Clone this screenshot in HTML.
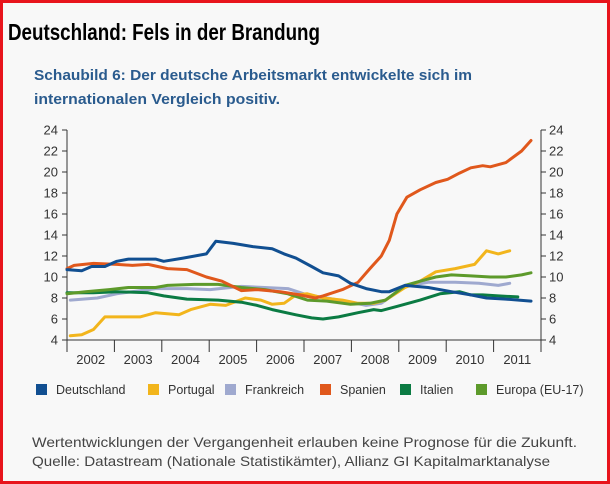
<!DOCTYPE html>
<html><head><meta charset="utf-8"><style>
html,body{margin:0;padding:0;background:#f8f8f8}
svg{display:block;font-family:"Liberation Sans",sans-serif}
</style></head><body>
<svg id="c" width="610" height="484" viewBox="0 0 610 484">
<rect x="1.5" y="1.5" width="607" height="481" fill="#f8f8f8" stroke="#e8141c" stroke-width="3"/>
<text x="8" y="40" font-size="23" font-weight="bold" fill="#000" textLength="312" lengthAdjust="spacingAndGlyphs">Deutschland: Fels in der Brandung</text>
<text x="34" y="80" font-size="15" font-weight="bold" fill="#2a5b8e" textLength="438" lengthAdjust="spacingAndGlyphs">Schaubild 6: Der deutsche Arbeitsmarkt entwickelte sich im</text>
<text x="34" y="104" font-size="15" font-weight="bold" fill="#2a5b8e" textLength="246" lengthAdjust="spacingAndGlyphs">internationalen Vergleich positiv.</text>
<g id="axes"></g>
<g id="series"></g>
<g id="legend"></g>
<text x="32" y="447" font-size="14" fill="#444" textLength="545" lengthAdjust="spacingAndGlyphs">Wertentwicklungen der Vergangenheit erlauben keine Prognose für die Zukunft.</text>
<text x="32" y="466" font-size="14" fill="#444" textLength="518" lengthAdjust="spacingAndGlyphs">Quelle: Datastream (Nationale Statistikämter), Allianz GI Kapitalmarktanalyse</text>
</svg>
<script>
const yTicks=[4,6,8,10,12,14,16,18,20,22,24];
const years=[2002,2003,2004,2005,2006,2007,2008,2009,2010,2011];
const seriesNames=["Deutschland","Portugal","Frankreich","Spanien","Italien","Europa (EU-17)"];
const seriesColors=["#114f91","#f2b51c","#9fa9cf","#e0581c","#0b7b43","#5d9a2b"];
const deT=[2002.0,2002.31,2002.52,2002.8,2003.05,2003.3,2003.87,2004.04,2004.45,2004.94,2005.14,2005.51,2005.92,2006.33,2006.58,2006.83,2007.16,2007.4,2007.73,2007.98,2008.31,2008.63,2008.8,2009.13,2009.62,2010.11,2010.52,2010.85,2011.26,2011.79];
const deV=[10.7,10.6,11.0,11.0,11.5,11.7,11.7,11.5,11.8,12.2,13.4,13.2,12.9,12.7,12.2,11.8,11.0,10.4,10.1,9.4,8.9,8.6,8.6,9.2,9.0,8.6,8.3,8.0,7.9,7.7];
const ptT=[2002.07,2002.31,2002.56,2002.8,2003.22,2003.54,2003.87,2004.36,2004.61,2005.02,2005.35,2005.76,2006.09,2006.33,2006.58,2006.83,2007.07,2007.4,2007.81,2008.14,2008.47,2008.72,2009.13,2009.45,2009.78,2010.19,2010.6,2010.85,2011.1,2011.34];
const ptV=[4.4,4.5,5.0,6.2,6.2,6.2,6.6,6.4,6.9,7.4,7.3,8.0,7.8,7.4,7.5,8.3,8.4,8.0,7.8,7.5,7.5,7.8,9.0,9.6,10.5,10.8,11.2,12.5,12.2,12.5];
const frT=[2002.07,2002.64,2003.05,2003.87,2004.53,2005.02,2005.68,2006.17,2006.66,2007.07,2007.48,2007.98,2008.31,2008.63,2009.13,2009.62,2010.19,2010.69,2011.1,2011.34];
const frV=[7.8,8.0,8.4,8.9,8.9,8.8,9.1,9.0,8.9,8.3,8.0,7.6,7.3,7.5,9.1,9.5,9.5,9.4,9.2,9.4];
const esT=[2002.0,2002.15,2002.56,2003.05,2003.38,2003.71,2004.12,2004.53,2004.94,2005.27,2005.68,2006.01,2006.5,2006.91,2007.24,2007.4,2007.81,2008.14,2008.39,2008.63,2008.8,2008.96,2009.17,2009.45,2009.78,2010.03,2010.28,2010.52,2010.77,2010.93,2011.26,2011.59,2011.79];
const esV=[10.8,11.1,11.3,11.2,11.1,11.2,10.8,10.7,10.0,9.6,8.7,8.8,8.6,8.3,8.0,8.2,8.8,9.5,10.8,12.0,13.5,16.0,17.6,18.3,19.0,19.3,19.9,20.4,20.6,20.5,20.9,22.0,23.0];
const itT=[2002.0,2002.56,2003.05,2003.71,2004.04,2004.53,2005.19,2005.68,2006.01,2006.33,2006.83,2007.16,2007.4,2007.73,2008.14,2008.47,2008.63,2008.96,2009.45,2009.87,2010.28,2010.52,2010.77,2011.1,2011.51];
const itV=[8.5,8.5,8.6,8.5,8.2,7.9,7.8,7.6,7.3,6.9,6.4,6.1,6.0,6.2,6.6,6.9,6.8,7.2,7.8,8.4,8.6,8.3,8.3,8.2,8.1];
const euT=[2002.0,2002.39,2002.89,2003.3,2003.87,2004.12,2004.69,2005.19,2005.68,2006.17,2006.66,2007.07,2007.48,2007.98,2008.39,2008.72,2008.96,2009.13,2009.45,2009.78,2010.11,2010.52,2010.93,2011.26,2011.59,2011.79];
const euV=[8.4,8.6,8.8,9.0,9.0,9.2,9.3,9.3,9.0,8.8,8.4,7.8,7.7,7.4,7.5,7.8,8.6,9.2,9.6,10.0,10.2,10.1,10.0,10.0,10.2,10.4];
const seriesT=[deT,ptT,frT,esT,itT,euT];
const seriesV=[deV,ptV,frV,esV,itV,euV];
const NS="http://www.w3.org/2000/svg";
const X0=67,X1=541,Y0=340,Y1=130;
function xs(t){return X0+(t-2002)/(2012-2002)*(X1-X0);}
function ys(v){return Y0-(v-4)/(24-4)*(Y0-Y1);}
function mk(tag,attrs,parent){const e=document.createElementNS(NS,tag);for(const k in attrs)e.setAttribute(k,attrs[k]);parent.appendChild(e);return e;}
const ax=document.getElementById('axes');
let e=mk('line',{x1:X0,y1:Y1,x2:X0,y2:Y0,stroke:'#333','stroke-width':1},ax);


e=mk('line',{x1:X1,y1:Y1,x2:X1,y2:Y0,stroke:'#333','stroke-width':1},ax);


e=mk('line',{x1:X0,y1:Y0,x2:X1,y2:Y0,stroke:'#333','stroke-width':1},ax);


yTicks.forEach(v=>{
  const y=ys(v);
  let t=mk('line',{x1:X0-5,y1:y,x2:X0,y2:y,stroke:'#333'},ax);
  
  
  t=mk('line',{x1:X1,y1:y,x2:X1+5,y2:y,stroke:'#333'},ax);
  
  
  let l=mk('text',{x:X0-9,y:y+4.5,'font-size':13,'text-anchor':'end',fill:'#333'},ax);l.textContent=v;
  
  
  l=mk('text',{x:X1+8,y:y+4.5,'font-size':13,fill:'#333'},ax);l.textContent=v;
  
  
});
for(let i=0;i<=years.length;i++){
  const x=xs(2002+i);
  let t=mk('line',{x1:x,y1:Y0,x2:x,y2:Y0+12,stroke:'#333'},ax);
  
  
}
years.forEach(yr=>{
  let l=mk('text',{x:xs(yr+0.5),y:364,'font-size':13,'text-anchor':'middle',fill:'#333'},ax);l.textContent=yr;
  
  
});
const sg=document.getElementById('series');
const order=[2,1,4,5,3,0];
order.forEach(i=>{
  const d=seriesT[i].map((t,j)=>(j?'L':'M')+xs(t).toFixed(1)+','+ys(seriesV[i][j]).toFixed(1)).join('');
  const p=mk('path',{d:d,fill:'none',stroke:seriesColors[i],'stroke-width':3,'stroke-linejoin':'round','stroke-linecap':'round'},sg);
  
  
});
const lg=document.getElementById('legend');
const lx=[36,148,225,320,400,476];
seriesNames.forEach((n,i)=>{
  const r=mk('rect',{x:lx[i],y:384,width:11,height:11,fill:seriesColors[i]},lg);
  
  
  const t=mk('text',{x:lx[i]+20,y:394,'font-size':12.5,fill:'#333'},lg);t.textContent=n;
  
  
});
</script>
</body></html>
